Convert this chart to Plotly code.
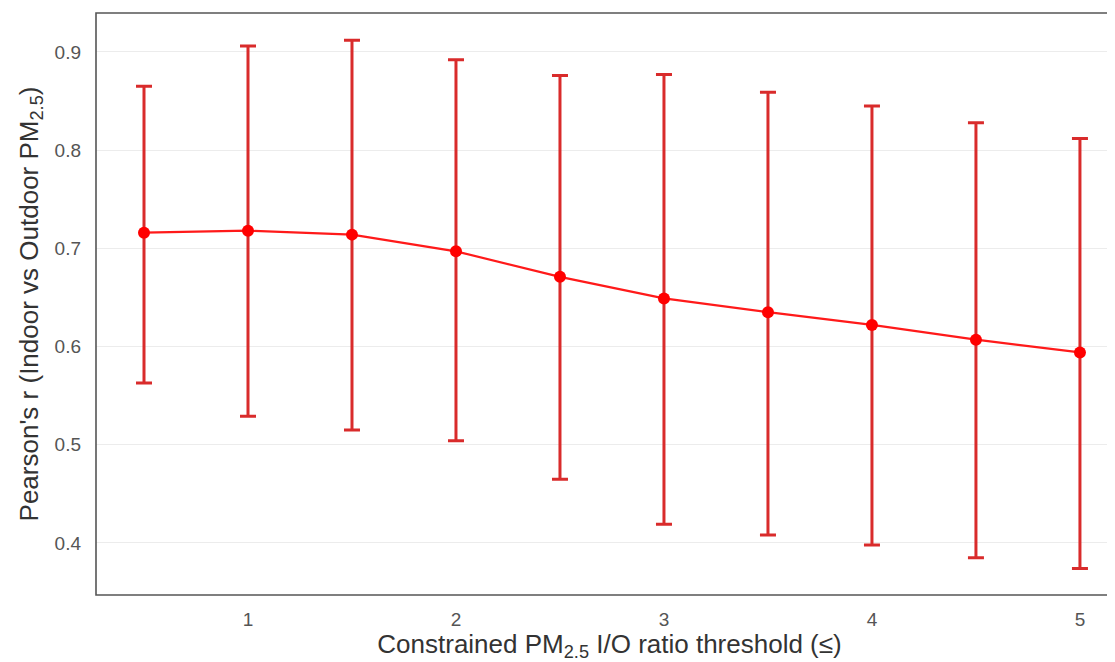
import plotly.graph_objects as go

# ── Datos ──────────────────────────────────────────────────────────────────
thresholds = [0.5, 1.0, 1.5, 2.0, 2.5, 3.0, 3.5, 4.0, 4.5, 5.0]
mean_r = [0.716, 0.718, 0.714, 0.697, 0.671, 0.649, 0.635, 0.622, 0.607, 0.594]
upper_r = [0.865, 0.906, 0.912, 0.892, 0.876, 0.877, 0.859, 0.845, 0.828, 0.812]
lower_r = [0.563, 0.529, 0.515, 0.504, 0.465, 0.419, 0.408, 0.398, 0.385, 0.374]

err_plus = [u - m for u, m in zip(upper_r, mean_r)]
err_minus = [m - l for m, l in zip(mean_r, lower_r)]

FONT = "Liberation Sans, Arial, sans-serif"

fig = go.Figure(go.Scatter(
    x=thresholds, y=mean_r,
    mode="lines+markers",
    line=dict(color="#ff1a1a", width=2.2),
    marker=dict(color="#ff0000", size=12),
    error_y=dict(
        type="data", symmetric=False,
        array=err_plus, arrayminus=err_minus,
        color="#d92b2b", thickness=3, width=8,
    ),
    showlegend=False,
))

# la página tiene 8px de margen en body -> compensamos (el borde derecho queda cortado)
fig.update_layout(
    width=1115, height=654,
    margin=dict(l=88, r=0, t=5, b=67),
    plot_bgcolor="white", paper_bgcolor="white",
    font=dict(family=FONT, color="#555555", size=19),
    shapes=[dict(
        type="rect", xref="paper", yref="paper",
        x0=0, x1=1.02, y0=0, y1=1,
        line=dict(color="#555555", width=1.6), layer="above",
    )],
)
fig.update_xaxes(
    range=[0.2692, 5.207],
    tickvals=[1, 2, 3, 4, 5],
    showgrid=False, zeroline=False,
    ticks="", tickfont=dict(size=19, color="#555555"),
    ticklabelstandoff=11,
    title=dict(text="Constrained PM<sub>2.5</sub> I/O ratio threshold (≤)",
               font=dict(size=26, color="#333333"), standoff=9),
)
fig.update_yaxes(
    range=[0.347, 0.9397],
    tickvals=[0.4, 0.5, 0.6, 0.7, 0.8, 0.9],
    showgrid=True, gridcolor="#ececec", gridwidth=1,
    zeroline=False, ticks="", tickfont=dict(size=19, color="#555555"),
    ticklabelstandoff=14,
    title=dict(text="Pearson's r (Indoor vs Outdoor PM<sub>2.5</sub>)",
               font=dict(size=26, color="#333333"), standoff=8),
)

fig.write_html("out.html")
